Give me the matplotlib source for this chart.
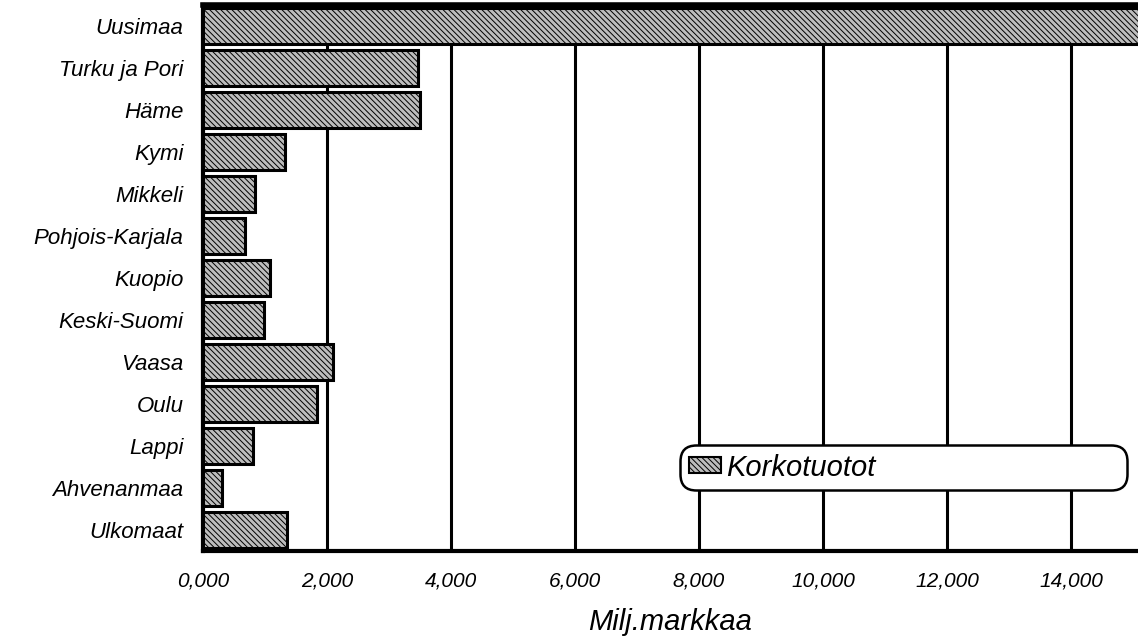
import matplotlib.pyplot as plt
from matplotlib.patches import Patch

plt.rcParams["font.family"] = ["Liberation Sans", "DejaVu Sans"]
plt.rcParams["hatch.color"] = "#5a5a5a"
plt.rcParams["hatch.linewidth"] = 0.7

# maakunnat ylhäältä alas
regions = ["Uusimaa", "Turku ja Pori", "Häme", "Kymi", "Mikkeli", "Pohjois-Karjala",
           "Kuopio", "Keski-Suomi", "Vaasa", "Oulu", "Lappi", "Ahvenanmaa", "Ulkomaat"]
korkotuotot = [16500, 3470, 3500, 1320, 840, 680, 1080, 980, 2100, 1840, 810, 310, 1350]
xticks = [0, 2000, 4000, 6000, 8000, 10000, 12000, 14000]
xtick_labels = ["0,000", "2,000", "4,000", "6,000", "8,000", "10,000", "12,000", "14,000"]

fig = plt.figure(figsize=(11.38, 6.44), dpi=100)
ax = fig.add_axes([0.1784, 0.1444, 0.8216, 0.8478])

ypos = list(range(len(regions)))
ax.barh(ypos, korkotuotot, height=0.86, color="#bdbdbd", edgecolor="black",
        linewidth=2.2, hatch="\\\\\\\\\\\\", zorder=3)

for x in xticks[1:]:
    ax.axvline(x, color="black", linewidth=2.2, zorder=1)

ax.set_xlim(0, 15080)
ax.set_ylim(len(regions) - 0.5, -0.5)
ax.set_yticks(ypos)
ax.set_yticklabels(regions, fontsize=16, style="italic")
ax.set_xticks(xticks)
ax.set_xticklabels(xtick_labels, fontsize=15, style="italic")
ax.tick_params(axis="y", length=0, pad=14)
ax.tick_params(axis="x", length=0, pad=15)

ax.spines["right"].set_visible(False)
ax.spines["top"].set_linewidth(4)
ax.spines["left"].set_linewidth(3)
ax.spines["bottom"].set_linewidth(3)

ax.set_xlabel("Milj.markkaa", fontsize=21, style="italic", labelpad=12)

handle = Patch(facecolor="#bdbdbd", edgecolor="black", linewidth=1.5, hatch="\\\\\\\\\\\\")
leg = ax.legend([handle], ["Korkotuotot"], loc="center left",
                bbox_to_anchor=(0.510, 0.1117, 0.478, 0.0824), mode="expand",
                prop={"style": "italic", "size": 21}, frameon=True,
                fancybox=True, handlelength=1.1, handleheight=0.5,
                handletextpad=0.2, borderpad=0.3, borderaxespad=0)
frame = leg.get_frame()
frame.set_edgecolor("black")
frame.set_linewidth(1.8)
frame.set_alpha(1)
frame.set_boxstyle("round,pad=0,rounding_size=0.55")
leg.set_zorder(5)

fig.savefig("out.png", dpi=100)
